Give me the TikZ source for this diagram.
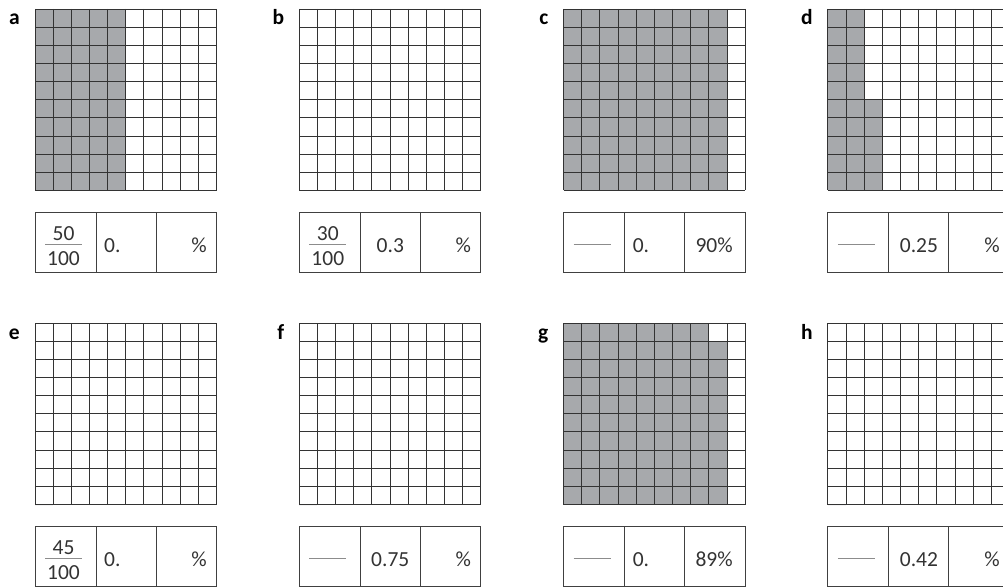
\documentclass[tikz,border=0pt]{standalone}
\usepackage{fontspec}
\setmainfont{Carlito}
\usepackage{tikz}
\definecolor{cellgray}{HTML}{A7A9AC}
\definecolor{inkgray}{HTML}{333333}

\begin{document}
\begin{tikzpicture}[x=1pt,y=-1pt,
	gridline/.style={draw=black!80,line width=0.9pt},
	tabline/.style={draw=black!75,line width=0.9pt},
	barline/.style={draw=black!45,line width=0.9pt},
	shaded/.style={fill=cellgray},
	txt/.style={inner sep=0pt,text=inkgray,font=\fontsize{21.5}{26}\selectfont},
	lbl/.style={inner sep=0pt,anchor=base east,text=black,font=\fontsize{21.5}{26}\selectfont\bfseries}]
	\path[use as bounding box,clip] (0,0) rectangle (1003,588);
	% hundred squares, one per panel
	\foreach \px/\py/\lab/\full/\extra in {35/9/a/5/0,299.3/9/b/0/0,563.6/9/c/9/0,827.9/9/d/2/5,
		35/323/e/0/0,299.3/323/f/0/0,563.6/323/g/8/9,827.9/323/h/0/0}{
		\fill[shaded] (\px,\py) rectangle ++(\full*18.15,181.5);
		\fill[shaded] (\px+\full*18.15,\py+181.5-\extra*18.15) rectangle ++(18.15,\extra*18.15);
		\foreach \i in {0,...,10}{
			\draw[gridline] (\px+\i*18.15,\py) --++(0,181.5);
			\draw[gridline] (\px,\py+\i*18.15) --++(181.5,0);
		}
		\node[lbl] (lbl-\lab) at (\px-15,\py+16) {\lab};
		% answer table
		\draw[tabline] (\px,\py+203) rectangle ++(181.5,60);
		\draw[tabline] (\px+61,\py+203) --++(0,60);
		\draw[tabline] (\px+121,\py+203) --++(0,60);
		\draw[barline] (\px+10,\py+235) --++(37,0);
	}
	% table entries, top row
	\node[txt,anchor=base] (a-num) at (63.5,240) {50};
	\node[txt,anchor=base] (a-den) at (63.5,265) {100};
	\node[txt,anchor=base west] (a-dec) at (104,252) {0.};
	\node[txt,anchor=base east] (a-pct) at (207,252) {\%};
	\node[txt,anchor=base] (b-num) at (327.8,240) {30};
	\node[txt,anchor=base] (b-den) at (327.8,265) {100};
	\node[txt,anchor=base] (b-dec) at (390.3,252) {0.3};
	\node[txt,anchor=base east] (b-pct) at (471.3,252) {\%};
	\node[txt,anchor=base west] (c-dec) at (632.6,252) {0.};
	\node[txt,anchor=base] (c-pct) at (714.1,252) {90\%};
	\node[txt,anchor=base] (d-dec) at (918.9,252) {0.25};
	\node[txt,anchor=base east] (d-pct) at (999.9,252) {\%};
	% table entries, bottom row
	\node[txt,anchor=base] (e-num) at (63.5,554) {45};
	\node[txt,anchor=base] (e-den) at (63.5,579) {100};
	\node[txt,anchor=base west] (e-dec) at (104,566) {0.};
	\node[txt,anchor=base east] (e-pct) at (207,566) {\%};
	\node[txt,anchor=base] (f-dec) at (390.3,566) {0.75};
	\node[txt,anchor=base east] (f-pct) at (471.3,566) {\%};
	\node[txt,anchor=base west] (g-dec) at (632.6,566) {0.};
	\node[txt,anchor=base] (g-pct) at (714.1,566) {89\%};
	\node[txt,anchor=base] (h-dec) at (918.9,566) {0.42};
	\node[txt,anchor=base east] (h-pct) at (999.9,566) {\%};
\end{tikzpicture}
\end{document}
